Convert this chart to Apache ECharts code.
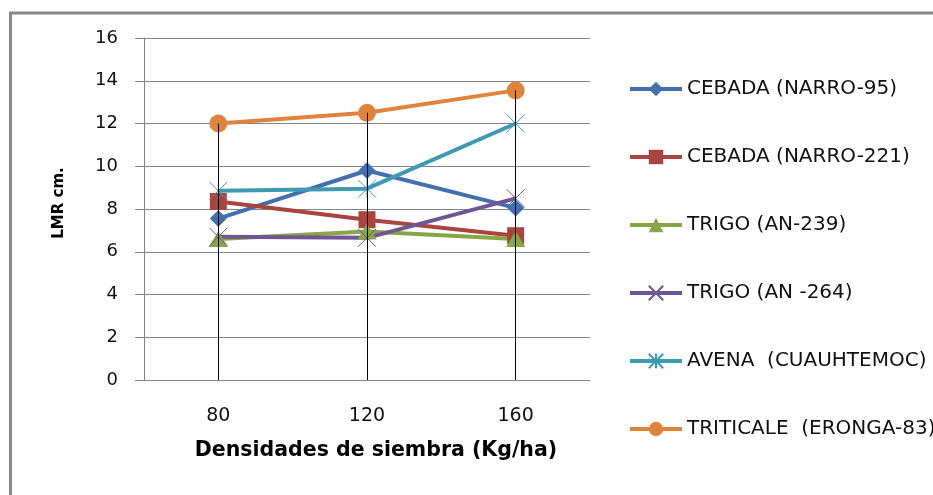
<!DOCTYPE html>
<html>
<head>
<meta charset="utf-8">
<script src="https://cdn.jsdelivr.net/npm/echarts@6/dist/echarts.min.js"></script>
<style>
html,body{margin:0;padding:0;background:#fff;}
#chart{width:933px;height:495px;}
</style>
</head>
<body>
<div id="chart"></div>
<script>
// ---- data ----
const categories = ['80', '120', '160'];
const seriesNames = ['CEBADA (NARRO-95)', 'CEBADA (NARRO-221)', 'TRIGO (AN-239)', 'TRIGO (AN -264)', 'AVENA  (CUAUHTEMOC)', 'TRITICALE  (ERONGA-83)'];
const cebada95 = [7.55, 9.8, 8.05];
const cebada221 = [8.35, 7.5, 6.75];
const trigo239 = [6.6, 6.95, 6.6];
const trigo264 = [6.7, 6.65, 8.5];
const avena = [8.85, 8.95, 12.0];
const triticale = [12.0, 12.5, 13.55];
const yMin = 0, yMax = 16, yInterval = 2;
const xTitle = 'Densidades de siembra (Kg/ha)';
const yTitle = 'LMR cm.';

// ---- styles ----
const colors = ['#4270AD', '#A9443F', '#88A547', '#6F5594', '#3E9AB2', '#DF843C'];
const symbols = ['diamond', 'rect', 'triangle', 'path://M0,0L10,10M10,0L0,10', 'path://M0,0L10,10M10,0L0,10M5,0L5,10', 'circle'];
const symbolSizes = [[17, 17], 17, [19, 16], 18, 18, 18];
const dataSets = [cebada95, cebada221, trigo239, trigo264, avena, triticale];
const FONT = 'DejaVu Sans';

const series = dataSets.map((d, i) => {
  const isPath = symbols[i].indexOf('path://') === 0;
  const s = {
    name: seriesNames[i],
    type: 'line',
    data: d,
    symbol: symbols[i],
    symbolSize: symbolSizes[i],
    showAllSymbol: true,
    lineStyle: { color: colors[i], width: 4 },
    itemStyle: isPath ? { color: colors[i], borderColor: colors[i], borderWidth: 1 } : { color: colors[i] },
    emphasis: { disabled: true },
    animation: false
  };
  if (i === dataSets.length - 1) {
    s.markLine = {
      silent: true,
      symbol: ['none', 'none'],
      animation: false,
      label: { show: false },
      lineStyle: { color: '#000', width: 1, type: 'solid' },
      data: categories.map((c, k) => [{ coord: [c, d[k]] }, { coord: [c, yMin] }])
    };
  }
  return s;
});

const chart = echarts.init(document.getElementById('chart'), null, { renderer: 'canvas' });
chart.setOption({
  animation: false,
  backgroundColor: '#fff',
  graphic: [{
    type: 'rect',
    shape: { x: 10.5, y: 13, width: 1000, height: 1000 },
    style: { fill: 'none', stroke: '#888', lineWidth: 3 },
    silent: true
  }],
  grid: { left: 144, top: 38, width: 446, height: 342 },
  legend: {
    orient: 'vertical',
    left: 623,
    top: 74,
    itemWidth: 52,
    itemHeight: 18,
    itemGap: 48,
    lineStyle: { width: 4 },
    textStyle: { fontFamily: FONT, fontSize: 20, color: '#111', lineHeight: 20 },
    data: seriesNames
  },
  xAxis: {
    type: 'category',
    data: categories,
    boundaryGap: true,
    axisLine: { lineStyle: { color: '#868686', width: 1 } },
    axisTick: { show: false },
    axisLabel: { fontFamily: FONT, fontSize: 19, color: '#111', margin: 27 },
    name: xTitle,
    nameLocation: 'middle',
    nameGap: 60,
    nameTextStyle: { fontFamily: FONT, fontSize: 20.5, fontWeight: 'bold', color: '#000', padding: [0, 0, 0, 18] }
  },
  yAxis: {
    type: 'value',
    min: yMin,
    max: yMax,
    interval: yInterval,
    axisLine: { show: true, lineStyle: { color: '#868686', width: 1 } },
    axisTick: { show: true, length: 9, lineStyle: { color: '#868686' } },
    splitLine: { lineStyle: { color: '#868686', width: 1 } },
    axisLabel: { fontFamily: FONT, fontSize: 18, color: '#111', margin: 26 },
    name: yTitle,
    nameLocation: 'middle',
    nameGap: 77,
    nameRotate: 90,
    nameTextStyle: { fontFamily: FONT, fontSize: 15, fontWeight: 'bold', color: '#000', padding: [0, 0, 0, 12] }
  },
  series: series
});
</script>
</body>
</html>
